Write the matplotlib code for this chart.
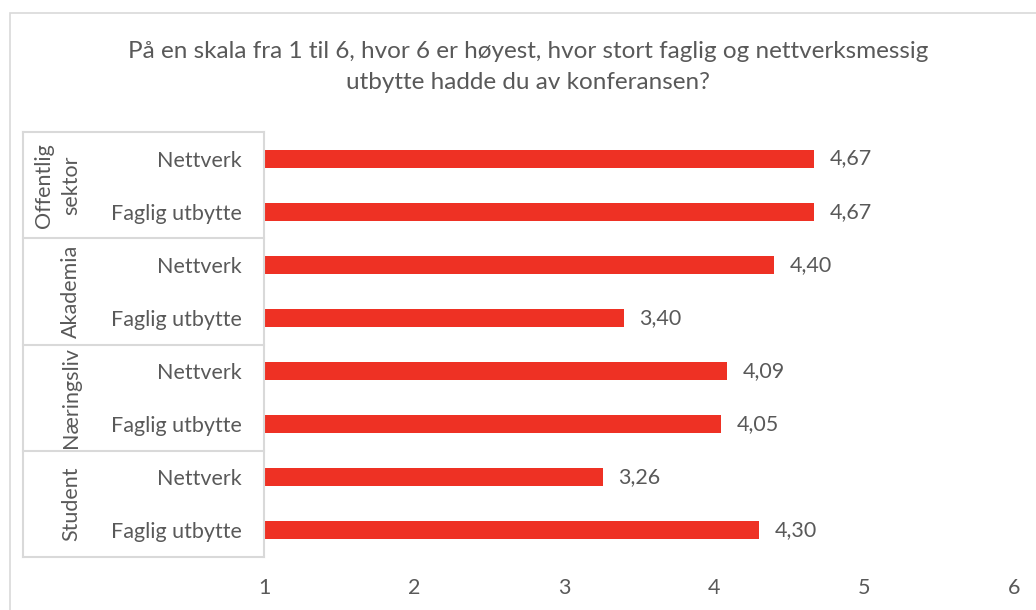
import matplotlib
matplotlib.use("Agg")
import matplotlib.pyplot as plt
import matplotlib.transforms as mtransforms
from matplotlib.patches import Rectangle

# Data (bottom to top)
groups = ["Student", "Næringsliv", "Akademia", "Offentlig\nsektor"]
categories = ["Faglig utbytte", "Nettverk"] * 4
values = [4.30, 3.26, 4.05, 4.09, 3.40, 4.40, 4.67, 4.67]
value_labels = ["4,30", "3,26", "4,05", "4,09", "3,40", "4,40", "4,67", "4,67"]
xticks = [1, 2, 3, 4, 5, 6]

title = ("På en skala fra 1 til 6, hvor 6 er høyest, hvor stort faglig og nettverksmessig\n"
         "utbytte hadde du av konferansen?")

bar_color = "#EE3124"
text_color = "#595959"
line_color = "#D9D9D9"

plt.rcParams["font.family"] = ["Lato", "DejaVu Sans"]

fig = plt.figure(figsize=(10.36, 6.10), dpi=100)
W, H = 1036, 610
ax = fig.add_axes([264 / W, 1 - 557 / H, 750 / W, 425 / H])

# Chart border
fig.patches.append(Rectangle((10 / W, -0.1), 1.2, 1 - 13 / H + 0.1, transform=fig.transFigure,
                             fill=False, edgecolor=line_color, linewidth=1.2))

ypos = list(range(len(values)))
ax.barh(ypos, [v - 1 for v in values], left=1, height=0.34, color=bar_color)

for y, v, lab in zip(ypos, values, value_labels):
    ax.annotate(lab, (v, y), xytext=(11, 0), textcoords="offset points",
                va="center", ha="left", fontsize=15.5, color=text_color)

ax.set_xlim(1, 6)
ax.set_ylim(-0.5, len(values) - 0.5)
ax.set_xticks(xticks)
ax.set_xticklabels([str(t) for t in xticks])
ax.set_yticks(ypos)
ax.set_yticklabels(categories)
ax.tick_params(axis="both", length=0, labelsize=15.5, labelcolor=text_color)
ax.tick_params(axis="y", pad=16)
ax.tick_params(axis="x", pad=15)

for s in ["top", "right", "bottom"]:
    ax.spines[s].set_visible(False)
ax.spines["left"].set_color(line_color)
ax.spines["left"].set_linewidth(1.5)

# Group table lines
trans = mtransforms.blended_transform_factory(ax.transAxes, ax.transData)
x0 = (23 - 264) / 750
for b in [-0.5, 1.5, 3.5, 5.5, 7.5]:
    ax.plot([x0, 0], [b, b], transform=trans, color=line_color, linewidth=1.5, clip_on=False)
ax.plot([x0, x0], [-0.5, 7.5], transform=trans, color=line_color, linewidth=1.5, clip_on=False)

gx = (81 - 264) / 750
for i, g in enumerate(groups):
    ax.text(gx, 2 * i + 0.5, g, transform=trans, rotation=90, ha="right", va="center",
            fontsize=15.5, color=text_color, multialignment="center", linespacing=1.45)

fig.text(528 / W, 1 - 67 / H, title, ha="center", va="center", fontsize=17.5,
         color=text_color, linespacing=1.55)

fig.savefig("out.png", dpi=100)
